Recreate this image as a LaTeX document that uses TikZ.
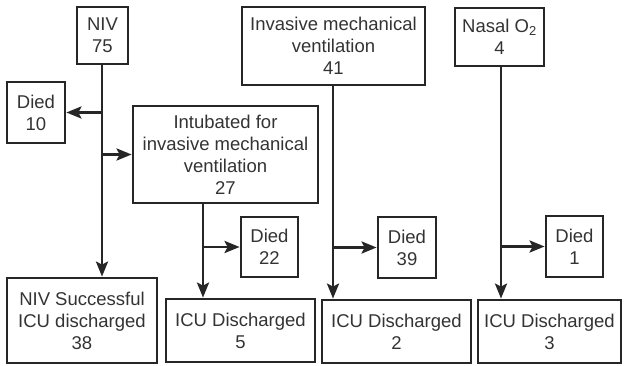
\documentclass[tikz,border=0pt]{standalone}
\usepackage{fontspec}
\setmainfont{Liberation Sans}
\usetikzlibrary{arrows.meta}
\begin{document}
\begin{tikzpicture}[x=1pt,y=-1pt,
  box/.style={draw=black!85,line width=2.8pt,inner sep=0pt,align=center,
    font=\fontsize{18.5}{22}\selectfont,text=black!80},
  conn/.style={draw=black!85,line width=2.8pt},
  arr/.style={conn,-{Stealth[length=15pt,width=12pt,inset=3pt]}}]
\useasboundingbox (0,0) rectangle (624,366);
\node[box,minimum width=51pt,minimum height=57pt] (niv) at (102.5,35.5) {NIV\\75};
\node[box,minimum width=58pt,minimum height=61pt] (died10) at (36,112.5) {Died\\10};
\node[box,minimum width=185pt,minimum height=97pt] (intub) at (225.5,154.5) {Intubated for\\invasive mechanical\\ventilation\\27};
\node[box,minimum width=183pt,minimum height=78pt] (imv) at (333.5,46) {Invasive mechanical\\ventilation\\41};
\node[box,minimum width=89pt,minimum height=58pt] (nasal) at (499.5,37) {Nasal O\textsubscript{2}\\4};
\node[box,minimum width=150pt,minimum height=85pt] (nivsucc) at (82,320.5) {NIV Successful\\ICU discharged\\38};
\node[box,minimum width=149pt,minimum height=63pt] (icu5) at (240.5,330.5) {ICU Discharged\\5};
\node[box,minimum width=57pt,minimum height=60pt] (died22) at (269.5,247) {Died\\22};
\node[box,minimum width=149pt,minimum height=63pt] (icu2) at (396.5,331.5) {ICU Discharged\\2};
\node[box,minimum width=58pt,minimum height=61pt] (died39) at (407,247.5) {Died\\39};
\node[box,minimum width=143pt,minimum height=63pt] (icu3) at (549.5,331.5) {ICU Discharged\\3};
\node[box,minimum width=57pt,minimum height=61pt] (died1) at (574.5,246.5) {Died\\1};
% NIV branch
\coordinate (nivtop) at (102,64);
\draw[arr] (nivtop) -- (nivtop |- nivsucc.north);
\draw[arr] (nivtop |- died10.east) -- (died10.east);
\draw[arr] (nivtop |- intub.west) -- (intub.west);
% Intubated branch
\coordinate (inttop) at (203,203);
\draw[arr] (inttop) -- (inttop |- icu5.north);
\draw[arr] (inttop |- died22.west) -- (died22.west);
% IMV branch
\coordinate (imvtop) at (333,85);
\draw[arr] (imvtop) -- (imvtop |- icu2.north);
\draw[arr] (imvtop |- died39.west) -- (died39.west);
% Nasal branch
\coordinate (nastop) at (501,66);
\draw[arr] (nastop) -- (nastop |- icu3.north);
\draw[arr] (nastop |- died1.west) -- (died1.west);
\end{tikzpicture}
\end{document}
